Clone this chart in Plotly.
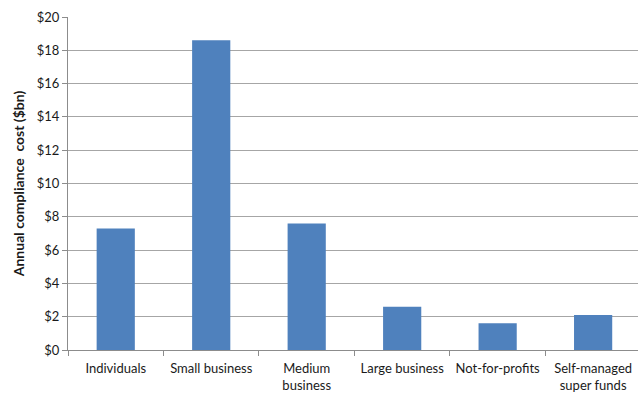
import plotly.graph_objects as go

categories = ["Individuals", "Small business", "Medium<br>business",
              "Large business", "Not-for-profits", "Self-managed<br>super funds"]
cost_bn = [7.3, 18.6, 7.6, 2.6, 1.6, 2.1]

fig = go.Figure(
    go.Bar(
        x=categories,
        y=cost_bn,
        width=0.4,
        marker=dict(color="#4F81BD", line=dict(width=0)),
    )
)

fig.update_layout(
    width=638,
    height=398,
    margin=dict(l=68, r=0, t=17, b=48),
    paper_bgcolor="white",
    plot_bgcolor="white",
    showlegend=False,
    font=dict(family="Lato, Open Sans, sans-serif", size=12, color="#1a1a1a"),
)

fig.update_xaxes(
    type="category",
    range=[-0.5, 5.47],
    showline=True,
    linecolor="#8c8c8c",
    linewidth=1,
    ticks="outside",
    tickson="boundaries",
    ticklen=5,
    tickcolor="#8c8c8c",
    tickangle=0,
    automargin=False,
    ticklabelstandoff=6,
    tickfont=dict(size=13, color="#1a1a1a"),
    showgrid=False,
)

fig.update_yaxes(
    range=[0, 20],
    dtick=2,
    tickprefix="$",
    showline=True,
    linecolor="#8c8c8c",
    linewidth=1,
    ticks="outside",
    ticklen=5,
    tickcolor="#8c8c8c",
    showgrid=True,
    gridcolor="#a6a6a6",
    gridwidth=1,
    zeroline=False,
    automargin=False,
    tickfont=dict(size=13, color="#1a1a1a"),
    title=dict(
        text="<b>Annual compliance  cost ($bn)</b>",
        font=dict(size=14, color="#1a1a1a"),
        standoff=8,
    ),
)

fig.write_html("out.html")
